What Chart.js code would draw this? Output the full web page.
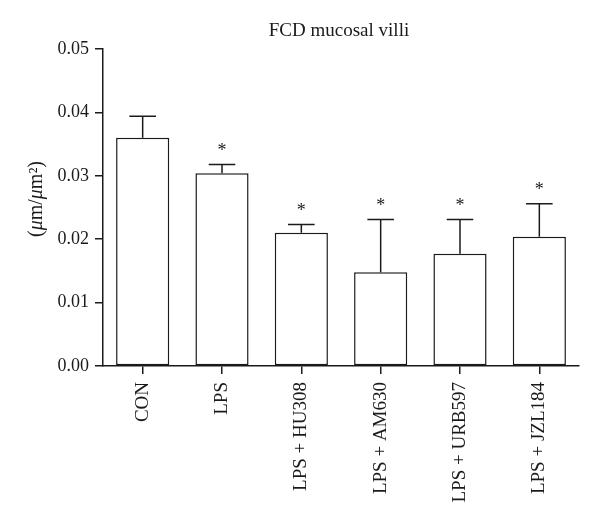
<!DOCTYPE html>
<html lang="en">
<head>
    <meta charset="UTF-8" />
    <title>FCD mucosal villi</title>
    <script src="https://cdn.jsdelivr.net/npm/chart.js"></script>
    <style>
        html, body { margin: 0; padding: 0; background: #fff; }
        #wrap { width: 600px; height: 521px; position: relative; }
    </style>
</head>
<body>
    <div id="wrap"><canvas id="fcdChart"></canvas></div>

    <script>
        // values
        const groups = ['CON', 'LPS', 'LPS + HU308', 'LPS + AM630', 'LPS + URB597', 'LPS + JZL184'];
        const means = [0.0360, 0.0304, 0.0210, 0.0148, 0.0177, 0.0204];
        const sems = [0.0034, 0.0014, 0.0013, 0.0083, 0.0054, 0.0052];
        const marks = ['', '*', '*', '*', '*', '*'];
        const yTicks = [0, 0.01, 0.02, 0.03, 0.04, 0.05];

        const FONT = '"Liberation Serif", "DejaVu Serif", serif';
        const INK = '#1a1a1a';

        // upward error bars + significance stars
        const errorBars = {
            id: 'errorBars',
            afterDatasetsDraw(chart) {
                const ctx = chart.ctx;
                const meta = chart.getDatasetMeta(0);
                const y = chart.scales.y;
                ctx.save();
                ctx.strokeStyle = INK;
                ctx.lineWidth = 1.5;
                meta.data.forEach((bar, i) => {
                    const top = y.getPixelForValue(means[i] + sems[i]);
                    const half = bar.width / 4;
                    ctx.beginPath();
                    ctx.moveTo(bar.x, bar.y);
                    ctx.lineTo(bar.x, top);
                    ctx.moveTo(bar.x - half, top);
                    ctx.lineTo(bar.x + half, top);
                    ctx.stroke();
                    if (marks[i]) {
                        ctx.fillStyle = INK;
                        ctx.font = '18px ' + FONT;
                        ctx.textAlign = 'center';
                        ctx.textBaseline = 'middle';
                        ctx.fillText(marks[i], bar.x, top - 13);
                    }
                });
                ctx.restore();
            }
        };

        // title and rotated y label drawn by hand
        const labels = {
            id: 'labels',
            afterDraw(chart) {
                const ctx = chart.ctx;
                const area = chart.chartArea;
                ctx.save();
                ctx.fillStyle = INK;
                ctx.font = '19px ' + FONT;
                ctx.textAlign = 'center';
                ctx.textBaseline = 'middle';
                ctx.fillText('FCD mucosal villi', (area.left + area.right) / 2 - 2, 31);

                ctx.translate(37, 199);
                ctx.rotate(-Math.PI / 2);
                const parts = [
                    ['(', '20px ' + FONT],
                    ['\u03bc', 'italic 20px ' + FONT],
                    ['m/', '20px ' + FONT],
                    ['\u03bc', 'italic 20px ' + FONT],
                    ['m\u00b2)', '20px ' + FONT]
                ];
                let total = 0;
                parts.forEach(p => { ctx.font = p[1]; total += ctx.measureText(p[0]).width; });
                let x = -total / 2;
                ctx.textAlign = 'left';
                parts.forEach(p => {
                    ctx.font = p[1];
                    ctx.fillText(p[0], x, 0);
                    x += ctx.measureText(p[0]).width;
                });
                ctx.restore();
            }
        };

        new Chart(document.getElementById('fcdChart'), {
            type: 'bar',
            data: {
                labels: groups,
                datasets: [{
                    data: means,
                    backgroundColor: '#ffffff',
                    borderColor: INK,
                    borderWidth: 1.5,
                    borderSkipped: false,
                    barPercentage: 0.67,
                    categoryPercentage: 1.0
                }]
            },
            options: {
                responsive: true,
                maintainAspectRatio: false,
                animation: false,
                layout: { padding: { top: 49, right: 21, left: 0, bottom: 0 } },
                plugins: {
                    legend: { display: false },
                    tooltip: { enabled: false }
                },
                scales: {
                    x: {
                        afterFit(scale) { scale.height = 155; },
                        border: { display: true, color: INK, width: 1.5 },
                        grid: {
                            offset: false,
                            drawOnChartArea: false,
                            drawTicks: true,
                            tickLength: 8,
                            color: INK,
                            lineWidth: 1.5
                        },
                        ticks: {
                            color: INK,
                            font: { family: FONT, size: 19 },
                            minRotation: 90,
                            maxRotation: 90,
                            padding: 8
                        }
                    },
                    y: {
                        min: 0,
                        max: 0.05,
                        afterFit(scale) { scale.width = 103; },
                        afterBuildTicks(scale) { scale.ticks = yTicks.map(v => ({ value: v })); },
                        border: { display: true, color: INK, width: 1.5 },
                        grid: {
                            drawOnChartArea: false,
                            drawTicks: true,
                            tickLength: 8,
                            color: INK,
                            lineWidth: 1.5
                        },
                        ticks: {
                            color: INK,
                            font: { family: FONT, size: 18 },
                            padding: 6,
                            callback: v => v.toFixed(2)
                        }
                    }
                }
            },
            plugins: [errorBars, labels]
        });
    </script>
</body>
</html>
